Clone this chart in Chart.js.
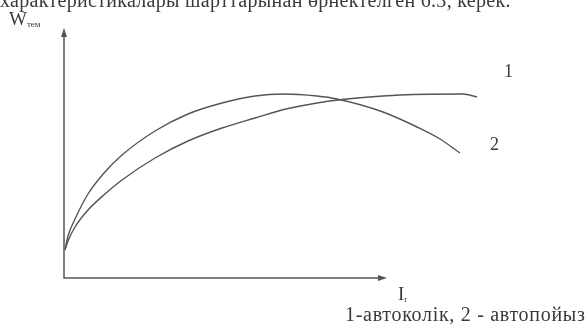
<!DOCTYPE html>
<html>
<head>
<meta charset="utf-8">
<script src="https://cdn.jsdelivr.net/npm/chart.js@4"></script>
<style>
  html, body { margin: 0; padding: 0; background: #fff; }
  #wrap { position: relative; width: 586px; height: 327px; overflow: hidden; font-family: "Liberation Serif", "DejaVu Serif", serif; color: #3a3a3a; }
  #wrap canvas { position: absolute; left: 0; top: 0; }
  .lbl { position: absolute; white-space: nowrap; line-height: 1; }
  .lbl sub { font-size: 9px; vertical-align: -2px; }
</style>
</head>
<body>
<div id="wrap">
  <canvas id="chart" width="586" height="327"></canvas>
  <div class="lbl" style="left:0;top:-10px;font-size:20px;letter-spacing:0.3px;">характеристикалары шарттарынан өрнектелген 6.3, керек.</div>
  <div class="lbl" style="left:9px;top:9px;font-size:19px;">W<sub>тем</sub></div>
  <div class="lbl" style="left:504px;top:62px;font-size:18px;">1</div>
  <div class="lbl" style="left:490px;top:135px;font-size:18px;">2</div>
  <div class="lbl" style="left:398px;top:284px;font-size:19px;">I<sub>r</sub></div>
  <div class="lbl" style="left:345px;top:304px;font-size:20px;letter-spacing:0.7px;">1-автоколік, 2 - автопойыз</div>
</div>
<script>
// values (arbitrary units: x along I_r, y along W_тем)
const avtokolikX = [1, 4, 11, 24, 41, 58, 91, 124, 158, 191, 222, 253, 274, 319, 336, 399, 413];
const avtokolikY = [28, 37, 51, 68, 84, 98, 120, 137, 150, 160, 169, 175, 178, 182, 183, 184, 181];

const avtopoiyzX = [1, 4, 11, 24, 41, 58, 91, 124, 158, 191, 219, 253, 273, 319, 353, 376, 396];
const avtopoiyzY = [28, 42, 59, 84, 106, 123, 147, 164, 175, 182, 184, 182, 179, 166, 151, 139, 125];

// axis arrows length
const xAxisEnd = 323;
const yAxisEnd = 250;

const toPoints = (xs, ys) => xs.map((x, i) => ({ x: x, y: ys[i] }));

// draw axes with arrowheads
const arrowAxes = {
  id: 'arrowAxes',
  afterDraw(chart) {
    const { ctx, scales: { x, y } } = chart;
    const x0 = x.getPixelForValue(0), y0 = y.getPixelForValue(0);
    const xe = x.getPixelForValue(xAxisEnd), ye = y.getPixelForValue(yAxisEnd);
    ctx.save();
    ctx.strokeStyle = '#555';
    ctx.fillStyle = '#555';
    ctx.lineWidth = 1.5;
    ctx.beginPath();
    ctx.moveTo(x0, ye + 4);
    ctx.lineTo(x0, y0);
    ctx.lineTo(xe - 4, y0);
    ctx.stroke();
    // arrow heads
    ctx.beginPath();
    ctx.moveTo(x0, ye);
    ctx.lineTo(x0 - 3, ye + 9);
    ctx.lineTo(x0 + 3, ye + 9);
    ctx.closePath();
    ctx.fill();
    ctx.beginPath();
    ctx.moveTo(xe, y0);
    ctx.lineTo(xe - 9, y0 - 3);
    ctx.lineTo(xe - 9, y0 + 3);
    ctx.closePath();
    ctx.fill();
    ctx.restore();
  }
};

const lineStyle = {
  borderColor: '#555',
  borderWidth: 1.4,
  pointRadius: 0,
  cubicInterpolationMode: 'monotone',
  fill: false
};

new Chart(document.getElementById('chart'), {
  type: 'line',
  data: {
    datasets: [
      { label: '1', data: toPoints(avtokolikX, avtokolikY), ...lineStyle },
      { label: '2', data: toPoints(avtopoiyzX, avtopoiyzY), ...lineStyle }
    ]
  },
  options: {
    responsive: false,
    animation: false,
    layout: { padding: { left: 64, right: 106, top: 28, bottom: 49 } },
    scales: {
      x: { type: 'linear', min: 0, max: 416, display: false },
      y: { type: 'linear', min: 0, max: 250, display: false }
    },
    plugins: { legend: { display: false }, tooltip: { enabled: false } }
  },
  plugins: [arrowAxes]
});
</script>
</body>
</html>
